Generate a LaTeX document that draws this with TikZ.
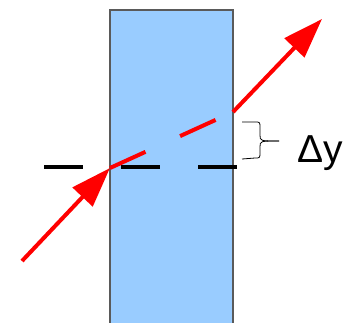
\documentclass[tikz,border=0pt]{standalone}
\usepackage{fontspec}
\setmainfont{Liberation Sans}
\usetikzlibrary{arrows.meta, positioning}

\definecolor{glass}{RGB}{153,204,255}
\definecolor{frame}{RGB}{90,90,90}

\tikzset{
  ray/.style={draw=red, line width=4pt, -{Triangle[length=40pt, width=27pt]}},
  inray/.style={draw=red, line width=4pt, dash pattern=on 39pt off 38pt},
  axis/.style={draw=black, line width=4pt, dash pattern=on 39pt off 38pt}
}

\begin{document}
\begin{tikzpicture}[x=1pt, y=-1pt]

\useasboundingbox (0,0) rectangle (359,322);

\draw[fill=glass, draw=frame, line width=1.5pt] (110,10) rectangle (233,330);

\coordinate (src) at (22,261);
\coordinate (in) at (110,168);
\coordinate (out) at (233,112);
\coordinate (dst) at (322,19);
\coordinate (left) at (44,167);
\coordinate (right) at (237,167);

\draw[axis] (left) -- (right);

\draw[ray] (src) -- (in);
\draw[inray] (in) -- (out);
\draw[ray] (out) -- (dst);

% brace for the shift
\coordinate (tip) at (279,141);
\draw[line width=0.8pt] (242,122) -- (255,122) .. controls (260,122) .. (260,128)
  -- (260,135) .. controls (260,141) .. (tip);
\draw[line width=0.8pt] (242,159) -- (255,158) .. controls (260,158) .. (260,152)
  -- (260,147) .. controls (260,141) .. (tip);

\node[font=\fontsize{39}{41}\selectfont, inner sep=0pt, anchor=west] (dy) at (297,153) {Δy};

\end{tikzpicture}
\end{document}
